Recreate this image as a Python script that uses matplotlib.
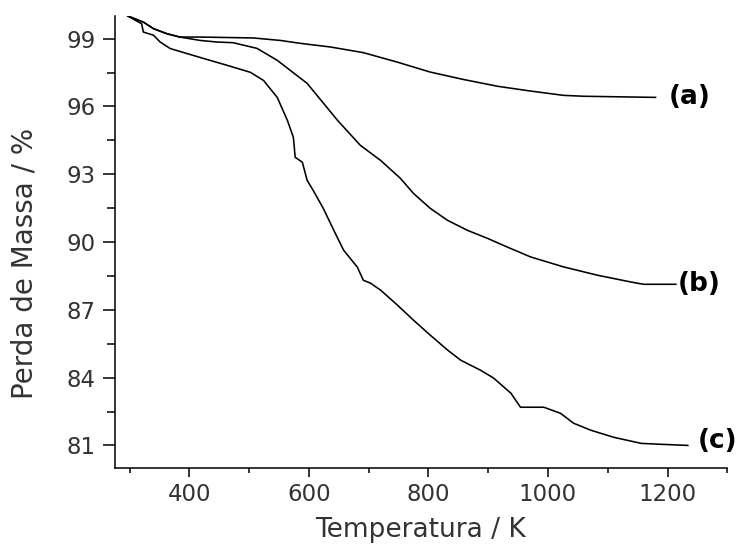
import matplotlib
matplotlib.use("Agg")
import matplotlib.pyplot as plt
from matplotlib.ticker import MultipleLocator

# --- data ---
temp_a = [297, 323, 340, 362, 384, 418, 507, 552, 586, 636, 691, 748, 803,
          859, 916, 971, 1026, 1060, 1180]
mass_a = [100.0, 99.73, 99.44, 99.22, 99.07, 99.07, 99.03, 98.92, 98.79,
          98.63, 98.38, 97.96, 97.52, 97.19, 96.89, 96.68, 96.49, 96.45, 96.40]

temp_b = [297, 323, 340, 362, 384, 418, 446, 473, 513, 547, 597, 648, 686,
          720, 753, 775, 803, 832, 865, 899, 937, 971, 1026, 1083, 1139, 1160,
          1214]
mass_b = [100.0, 99.73, 99.44, 99.22, 99.07, 98.92, 98.85, 98.82, 98.57,
          98.04, 97.02, 95.38, 94.28, 93.61, 92.82, 92.15, 91.49, 90.96, 90.52,
          90.16, 89.72, 89.34, 88.90, 88.53, 88.23, 88.13, 88.13]

temp_c = [297, 320, 323, 340, 351, 368, 396, 424, 463, 502, 524, 547, 564,
          574, 577, 589, 597, 607, 624, 644, 658, 681, 691, 703, 720, 748, 775,
          803, 832, 854, 887, 909, 938, 954, 993, 1021, 1043, 1072, 1110, 1156,
          1189, 1234]
mass_c = [100.0, 99.66, 99.29, 99.15, 98.85, 98.56, 98.34, 98.12, 97.82,
          97.51, 97.15, 96.40, 95.38, 94.63, 93.75, 93.53, 92.73, 92.29, 91.49,
          90.39, 89.64, 88.89, 88.31, 88.18, 87.87, 87.21, 86.54, 85.88, 85.22,
          84.77, 84.33, 83.98, 83.31, 82.69, 82.69, 82.42, 81.98, 81.67, 81.36,
          81.09, 81.05, 81.0]

curve_labels = ["(a)", "(b)", "(c)"]
label_x = [1202, 1217, 1251]
label_y = [96.4, 88.13, 81.2]

# --- figure ---
plt.rcParams['font.family'] = ['DejaVu Sans']
fig = plt.figure(figsize=(7.4, 5.49), dpi=100, facecolor='white')
ax = fig.add_axes([0.155, 0.1475, 0.8278, 0.8233])

for t, m in [(temp_a, mass_a), (temp_b, mass_b), (temp_c, mass_c)]:
    ax.plot(t, m, color='black', linewidth=1.15)

for lab, lx, ly in zip(curve_labels, label_x, label_y):
    ax.text(lx, ly, lab, fontsize=19, fontweight='bold', ha='left',
            va='center', color='black')

ax.set_xlim(275, 1300)
ax.set_ylim(80, 100)

ax.xaxis.set_major_locator(MultipleLocator(200))
ax.xaxis.set_minor_locator(MultipleLocator(100))
ax.yaxis.set_major_locator(MultipleLocator(3))
ax.yaxis.set_minor_locator(MultipleLocator(1.5))

txt_col = '#333333'
ax.tick_params(axis='x', which='major', direction='out', length=6.5,
               width=1.1, pad=4, labelsize=16.5, labelcolor=txt_col)
ax.tick_params(axis='x', which='minor', direction='out', length=3.6,
               width=1.1)
ax.tick_params(axis='y', which='major', direction='out', length=9,
               width=1.1, pad=5, labelsize=16.5, labelcolor=txt_col)
ax.tick_params(axis='y', which='minor', direction='out', length=5.5,
               width=1.1)

for side in ['top', 'right']:
    ax.spines[side].set_visible(False)
for side in ['left', 'bottom']:
    ax.spines[side].set_linewidth(1.1)

ax.set_xlabel('Temperatura / K', fontsize=19, color=txt_col, va='top')
ax.set_ylabel('Perda de Massa / %', fontsize=20, color=txt_col)
ax.xaxis.set_label_coords(0.5, -0.109)
ax.yaxis.set_label_coords(-0.125, 0.452)

fig.savefig('out.png', dpi=100, facecolor='white')
